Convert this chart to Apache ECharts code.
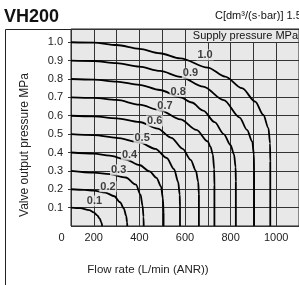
<!DOCTYPE html>
<html>
<head>
<meta charset="utf-8">
<script src="https://cdn.jsdelivr.net/npm/echarts@6/dist/echarts.min.js"></script>
<style>
  html, body { margin: 0; padding: 0; background: #fff; }
  #chart { width: 299px; height: 285px; }
</style>
</head>
<body>
<div id="chart"></div>
<script>
// supply pressure curves: [flow L/min, output pressure MPa]
var curve01 = [[100,0.1],[140,0.097],[180,0.086],[200,0.074],[215,0.058],[226,0.04],[233,0.02],[237,0]];
var curve02 = [[100,0.2],[160,0.197],[200,0.192],[250,0.182],[290,0.162],[315,0.13],[332,0.095],[342,0.055],[346,0.02],[347,0]];
var curve03 = [[100,0.3],[200,0.29],[270,0.282],[340,0.264],[385,0.225],[405,0.17],[414,0.11],[418,0.05],[419,0]];
var curve04 = [[100,0.4],[200,0.394],[270,0.383],[340,0.362],[400,0.332],[445,0.297],[475,0.262],[495,0.215],[503,0.15],[506,0.07],[506,0]];
var curve05 = [[100,0.5],[200,0.495],[300,0.48],[400,0.455],[470,0.42],[520,0.37],[552,0.31],[570,0.24],[577,0.17],[578,0.1],[578,0]];
var curve06 = [[100,0.6],[200,0.596],[300,0.586],[400,0.566],[480,0.53],[540,0.48],[590,0.42],[625,0.36],[648,0.3],[658,0.24],[661,0.17],[661,0]];
var curve07 = [[100,0.7],[200,0.697],[300,0.686],[400,0.66],[490,0.63],[580,0.58],[650,0.523],[700,0.46],[712,0.43],[722,0.39],[728,0.31],[729,0.22],[729,0]];
var curve08 = [[100,0.8],[200,0.797],[300,0.786],[400,0.768],[490,0.74],[580,0.70],[630,0.672],[680,0.628],[730,0.565],[770,0.50],[800,0.44],[815,0.39],[822,0.32],[823,0.24],[823,0]];
var curve09 = [[100,0.9],[200,0.898],[300,0.886],[400,0.867],[490,0.844],[580,0.812],[680,0.758],[770,0.685],[840,0.59],[872,0.523],[895,0.46],[902,0.39],[903,0.3],[903,0]];
var curve10 = [[100,1.0],[200,0.998],[300,0.985],[400,0.964],[490,0.94],[580,0.912],[700,0.862],[776,0.813],[850,0.75],[908,0.677],[944,0.604],[966,0.532],[973,0.45],[974,0.35],[974,0]];

// curve labels (supply pressure) and where they sit
var labelText = ['0.1','0.2','0.3','0.4','0.5','0.6','0.7','0.8','0.9','1.0'];
var labelFlow = [203, 262, 309, 357, 412, 467, 512, 570, 624, 688];
var labelPress = [0.136, 0.214, 0.305, 0.386, 0.477, 0.572, 0.653, 0.732, 0.831, 0.931];

var xTicks = [200, 400, 600, 800, 1000];

var FONT = 'Liberation Sans, Arial, Helvetica, sans-serif';
var PLOT_BG = '#e8e8e8';

var chart = echarts.init(document.getElementById('chart'));

var curves = [curve01, curve02, curve03, curve04, curve05, curve06, curve07, curve08, curve09, curve10];
var series = curves.map(function (c, i) {
    return {
        name: labelText[i],
        type: 'line',
        data: c,
        showSymbol: false,
        smooth: 0.3,
        smoothMonotone: 'x',
        lineStyle: { color: '#000', width: 1.8 },
        z: 3
    };
});

series.push({
    type: 'scatter',
    data: labelFlow.map(function (f, i) { return [f, labelPress[i]]; }),
    symbolSize: 0,
    z: 4,
    label: {
        show: true,
        position: 'inside',
        formatter: function (p) { return labelText[p.dataIndex]; },
        fontFamily: FONT,
        fontSize: 11,
        fontWeight: 'bold',
        color: '#111',
        backgroundColor: PLOT_BG,
        padding: [0, 1, 0, 1]
    }
});

var option = {
    animation: false,
    textStyle: { fontFamily: FONT },
    title: {
        text: 'VH200',
        left: -1,
        top: 3,
        textStyle: { fontFamily: FONT, fontSize: 18, fontWeight: 'bold', color: '#111' }
    },
    grid: {
        left: 71,
        right: 0,
        top: 29,
        bottom: 59,
        show: true,
        backgroundColor: PLOT_BG,
        borderColor: '#222',
        borderWidth: 1
    },
    xAxis: {
        type: 'value',
        min: 100,
        max: 1100,
        interval: 100,
        name: 'Flow rate (L/min (ANR))',
        nameLocation: 'middle',
        nameGap: 38,
        nameTextStyle: { fontFamily: FONT, fontSize: 11.5, color: '#222', padding: [0, 74, 0, 0] },
        axisLine: { show: false },
        axisTick: { show: false },
        splitLine: { show: true, lineStyle: { color: '#333', width: 1 } },
        axisLabel: {
            margin: 6,
            fontFamily: FONT,
            fontSize: 11,
            color: '#222',
            showMaxLabel: false,
            formatter: function (v) {
                if (v === 100) return '{z|0}';
                return xTicks.indexOf(v) >= 0 ? String(v) : '';
            },
            rich: { z: { fontFamily: FONT, fontSize: 11, color: '#222', padding: [0, 19, 0, 0] } }
        }
    },
    yAxis: {
        type: 'value',
        min: 0,
        max: 1.072,
        interval: 0.1,
        name: 'Valve output pressure MPa',
        nameLocation: 'middle',
        nameGap: 40,
        nameTextStyle: { fontFamily: FONT, fontSize: 12, color: '#222', padding: [0, 35, 0, 0] },
        axisLine: { show: false },
        axisTick: { show: true, length: 3, lineStyle: { color: '#333' } },
        splitLine: { show: true, lineStyle: { color: '#333', width: 1 } },
        axisLabel: {
            margin: 8,
            fontFamily: FONT,
            fontSize: 11,
            color: '#222',
            showMaxLabel: false,
            showMinLabel: false,
            formatter: function (v) { return v > 1.01 ? '' : v.toFixed(1); }
        }
    },
    graphic: [
        {
            type: 'rect',
            z: -10,
            shape: { x: 5.5, y: 29.5, width: 400, height: 400 },
            style: { fill: 'none', stroke: '#222', lineWidth: 1 }
        },
        {
            type: 'text',
            right: 1,
            top: 30,
            z: 100,
            style: {
                text: 'Supply pressure MPa',
                font: '11px ' + FONT,
                fill: '#111',
                backgroundColor: PLOT_BG,
                padding: [0, 0, 1, 2]
            }
        },
        {
            type: 'text',
            left: 215,
            top: 10,
            style: {
                text: 'C[dm³/(s·bar)] 1.5',
                font: '11px ' + FONT,
                fill: '#111'
            }
        }
    ],
    series: series
};

chart.setOption(option);
</script>
</body>
</html>
